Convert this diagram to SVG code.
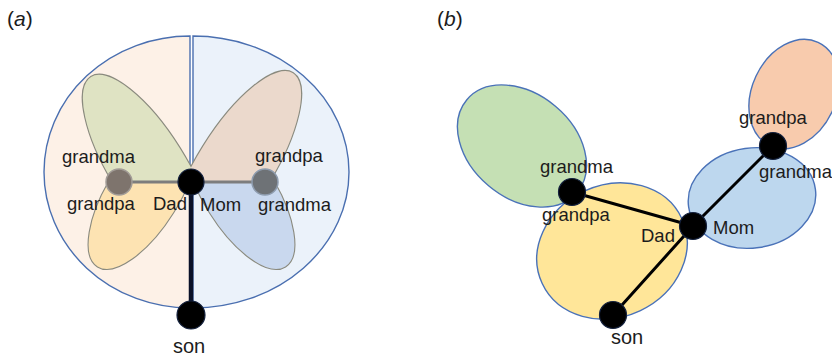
<svg xmlns="http://www.w3.org/2000/svg" width="832" height="359" viewBox="0 0 832 359">
  <style>
    .lbl { font-family: "Liberation Sans", Arial, sans-serif; font-size: 18.5px; fill: #1c1c1c; }
    .son { font-size: 20px; }
    .tag { font-family: "Liberation Sans", Arial, sans-serif; font-size: 21px; fill: #1c1c1c; }
    .half { stroke: #4a6fb0; stroke-width: 1.4; }
    .petal { stroke: #8a8a7e; stroke-width: 1.1; }
    .blob { stroke: #4a72b8; stroke-width: 1.4; }
    .node { fill: #000; stroke: #14213d; stroke-width: 1.2; }
    .edge { stroke: #000; stroke-width: 3; fill: none; stroke-linecap: round; }
  </style>
  <defs>
    <clipPath id="clipUL"><rect x="0" y="0" width="191" height="182"/></clipPath>
    <clipPath id="clipLL"><rect x="0" y="182" width="191" height="177"/></clipPath>
    <clipPath id="clipUR"><rect x="191" y="0" width="240" height="182"/></clipPath>
    <clipPath id="clipLR"><rect x="191" y="182" width="240" height="177"/></clipPath>
  </defs>

  <rect width="832" height="359" fill="#ffffff"/>

  <!-- panel (a): split family oval with four grandparent petals -->
  <text class="tag" x="7" y="26">(<tspan font-style="italic">a</tspan>)</text>

  <g id="family-left">
    <path class="half" fill="#fdf1e7" d="M190,36 A146,136 0 0 0 190,308 Z"/>
  </g>
  <g id="family-right">
    <path class="half" fill="#ebf2fa" d="M193,36 A156,136 0 0 1 193,308 Z"/>
  </g>

  <g id="petal-dad-grandma" clip-path="url(#clipUL)">
    <ellipse class="petal" fill="#dfe3c3" cx="148" cy="168" rx="108" ry="38" transform="rotate(58 148 168)"/>
  </g>
  <g id="petal-dad-grandpa" clip-path="url(#clipLL)">
    <ellipse class="petal" fill="#fde3b2" cx="143" cy="194" rx="86" ry="36" transform="rotate(-58 143 194)"/>
  </g>
  <g id="petal-mom-grandpa" clip-path="url(#clipUR)">
    <ellipse class="petal" fill="#ebd9cc" cx="235" cy="166" rx="110" ry="38" transform="rotate(-58 235 166)"/>
  </g>
  <g id="petal-mom-grandma" clip-path="url(#clipLR)">
    <ellipse class="petal" fill="#c9d8ee" cx="240" cy="194" rx="86" ry="36" transform="rotate(58 240 194)"/>
  </g>

  <g id="connectors-a">
    <line x1="119" y1="182" x2="265" y2="182" stroke="#7d7d7d" stroke-width="3"/>
    <line x1="191" y1="182" x2="191" y2="315" stroke="#0a1128" stroke-width="4.5"/>
  </g>

  <g id="a-grandparents-dad">
    <circle cx="119" cy="182" r="13" fill="#7e746d" stroke="#a29c97" stroke-width="1.5"/>
    <text class="lbl" x="62" y="163">grandma</text>
    <text class="lbl" x="67" y="210">grandpa</text>
  </g>
  <g id="a-grandparents-mom">
    <circle cx="265" cy="182" r="13" fill="#6e7276" stroke="#8e9cae" stroke-width="1.5"/>
    <text class="lbl" x="255" y="162">grandpa</text>
    <text class="lbl" x="258" y="211">grandma</text>
  </g>
  <g id="a-parents">
    <circle class="node" cx="191" cy="182" r="13"/>
    <text class="lbl" x="153" y="210">Dad</text>
    <text class="lbl" x="200" y="211">Mom</text>
  </g>
  <g id="a-son">
    <circle class="node" cx="191" cy="315" r="14"/>
    <text class="lbl son" x="173" y="353">son</text>
  </g>

  <!-- panel (b): overlapping family ovals -->
  <text class="tag" x="437" y="26">(<tspan font-style="italic">b</tspan>)</text>

  <g id="oval-dad-parents">
    <ellipse class="blob" fill="#c5e0b4" cx="522" cy="146" rx="72" ry="52" transform="rotate(40 522 146)"/>
  </g>
  <g id="oval-mom-parents">
    <ellipse class="blob" fill="#f8cbad" cx="794" cy="94" rx="42" ry="57" transform="rotate(25 794 94)"/>
  </g>
  <g id="oval-mom-family">
    <ellipse class="blob" fill="#bdd7ee" cx="752" cy="198" rx="64" ry="50" transform="rotate(-8 752 198)"/>
  </g>
  <g id="oval-dad-family">
    <ellipse class="blob" fill="#ffe699" cx="612" cy="251" rx="77" ry="66" transform="rotate(-25 612 251)"/>
  </g>

  <g id="connectors-b">
    <line class="edge" x1="572" y1="192" x2="693" y2="226"/>
    <line class="edge" x1="693" y1="226" x2="773" y2="146"/>
    <line class="edge" x1="693" y1="226" x2="613" y2="315"/>
  </g>

  <g id="b-dad-grandparents">
    <circle class="node" cx="572" cy="192" r="13.5"/>
    <text class="lbl" x="540" y="173">grandma</text>
    <text class="lbl" x="542" y="221">grandpa</text>
  </g>
  <g id="b-mom-grandparents">
    <circle class="node" cx="773" cy="146" r="13.5"/>
    <text class="lbl" x="739" y="124">grandpa</text>
    <text class="lbl" x="759" y="178">grandma</text>
  </g>
  <g id="b-parents">
    <circle class="node" cx="693" cy="226" r="13.5"/>
    <text class="lbl" x="641" y="242">Dad</text>
    <text class="lbl" x="713" y="234">Mom</text>
  </g>
  <g id="b-son">
    <circle class="node" cx="613" cy="315" r="13.5"/>
    <text class="lbl son" x="611" y="344">son</text>
  </g>
</svg>
